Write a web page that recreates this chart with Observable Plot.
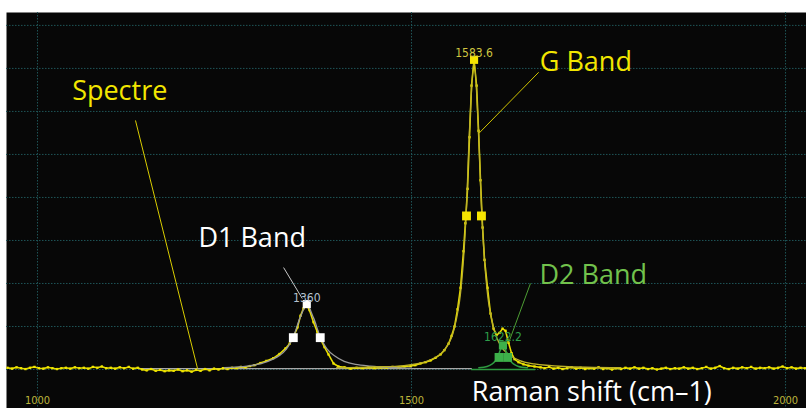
<!DOCTYPE html>
<html>
<head>
<meta charset="utf-8">
<script src="https://cdn.jsdelivr.net/npm/d3@7"></script>
<script src="https://cdn.jsdelivr.net/npm/@observablehq/plot@0.6"></script>
<style>
  html, body { margin: 0; padding: 0; background: #ffffff; }
  #chart svg { display: block; }
</style>
</head>
<body>
<div id="chart"></div>
<script>
// ---------- Data ----------
// x tick labels (Raman shift, cm-1) and y grid levels (arbitrary intensity units)
const xTicks = [1000, 1500, 2000];
const yGrid = [0, 1, 2, 3, 4, 5, 6, 7, 8];

// measured spectrum
const specWn = [
  960,966,972,978,984,990,996,1002,1008,1014,1020,1026,1032,1038,1044,1050,1056,1062,1068,1074,
  1080,1086,1092,1098,1104,1110,1116,1122,1128,1134,1140,1146,1152,1158,1164,1170,1176,1182,1188,1194,
  1200,1206,1212,1218,1224,1230,1236,1242,1248,1254,1260,1266,1272,1278,1284,1290,
  1298,1306,1315,1323.5,1331.6,1337,1342,1347.6,1351.6,1355.6,1359.6,1363.6,1369,1374,1378,1383.7,1389,1395.7,
  1402.4,1410.4,1418.4,1426.5,1434.5,1442.5,1450.5,1458.6,1466.6,1474.6,1482.6,1490.6,1498.7,1505,1512,
  1518.7,1525.4,1532,1538.8,1544,1549.5,1553.5,1557.5,1561.5,1565.5,1569.5,1572,1574.9,1577.5,1580.2,1583.6,
  1587,1589.6,1592.2,1595,1597.6,1601.6,1605.6,1609.6,1613.6,1617.6,1621.7,1625.7,1629.7,1633.7,1637.7,
  1643,1649.7,1656.4,1664.4,1672.5,
  1678,1684,1690,1696,1702,1708,1714,1720,1726,1732,1738,1744,1750,1756,1762,1768,1774,1780,1786,1792,
  1798,1804,1810,1816,1822,1828,1834,1840,1846,1852,1858,1864,1870,1876,1882,1888,1894,1900,1906,1912,
  1918,1924,1930,1936,1942,1948,1954,1960,1966,1972,1978,1984,1990,1996,2002,2008,2014,2020,2026
];
const specInt = [
  0.04,0.02,0.05,0.03,0.01,0.04,0.06,0.03,0.02,0.05,0.03,0.01,0.03,0.04,0.02,0.05,0.03,0.04,0.02,0.06,
  0.04,0.07,0.03,0.04,0.02,0.05,0.03,0.06,0.02,0.04,0.00,-0.02,0.01,-0.03,-0.01,-0.04,-0.02,-0.03,0.00,-0.04,
  -0.02,-0.05,-0.01,-0.03,0.01,-0.02,0.02,0.00,0.03,0.01,0.04,0.03,0.06,0.05,0.08,0.10,
  0.15,0.20,0.26,0.36,0.49,0.60,0.75,0.98,1.25,1.42,1.50,1.38,1.10,0.88,0.72,0.52,0.35,0.14,
  0.07,0.05,0.02,0.04,0.03,0.05,0.03,0.05,0.04,0.06,0.05,0.07,0.08,0.10,0.14,
  0.17,0.21,0.27,0.35,0.45,0.60,0.78,1.00,1.40,1.90,2.75,3.40,4.20,5.40,6.60,7.18,
  6.60,5.55,4.40,3.30,2.55,1.90,1.30,0.95,0.80,0.85,0.95,0.90,0.62,0.38,0.24,
  0.17,0.12,0.09,0.07,0.05,
  0.03,0.06,0.02,0.04,0.01,0.03,0.05,0.02,0.04,0.01,0.03,0.02,0.05,0.01,0.03,0.00,0.03,0.01,0.04,0.02,
  0.05,0.02,0.04,0.01,0.03,0.00,0.02,0.04,0.01,0.03,0.02,0.05,0.02,0.04,0.01,0.03,0.06,0.02,0.04,0.08,
  0.03,0.01,0.04,0.02,0.05,0.03,0.06,0.02,0.04,0.03,0.05,0.02,0.04,0.07,0.03,0.05,0.02,0.04,0.03
];

// fitted bands
const d1FitWn  = [1250,1280,1300,1315,1324,1333,1342,1351,1360,1369,1378,1387,1396,1410,1425,1445,1470,1500];
const d1FitInt = [0.04,0.08,0.14,0.24,0.33,0.48,0.76,1.20,1.50,1.20,0.76,0.48,0.33,0.19,0.12,0.08,0.05,0.03];

const gFitWn  = [1400,1450,1490,1520,1540,1553,1563,1568,1573,1578,1583.6,1589,1594,1599,1604,1614,1624,1644,1664,1704,1780];
const gFitInt = [0.04,0.06,0.09,0.19,0.38,0.72,1.45,2.22,3.60,5.74,7.17,5.74,3.60,2.22,1.45,0.74,0.44,0.21,0.13,0.07,0.04];

const d2FitWn  = [1590,1601,1608,1611.7,1615.2,1618.7,1622.2,1625.7,1629.2,1632.7,1636.2,1643,1655];
const d2FitInt = [0.04,0.07,0.13,0.19,0.29,0.45,0.56,0.45,0.29,0.19,0.13,0.07,0.04];

// fit baselines
const baseGrayWn = [1135, 1580];
const baseGrayInt = [0.02, 0.02];
const baseGreenWn = [1580, 1665];
const baseGreenInt = [0.0, 0.0];

// peak positions / half-maximum markers
const bandNames   = ["D1", "G", "D2"];
const peakWn      = [1360, 1583.6, 1622.2];
const peakInt     = [1.52, 7.20, 0.56];
const halfLeftWn  = [1342, 1573.5, 1617];
const halfRightWn = [1378, 1593.5, 1628.5];
const halfInt     = [0.74, 3.57, 0.28];
const peakLabels  = ["1360", "1583.6", "1622.2"];
const peakLabelInt = [1.56, 7.26, 0.67];

// annotations
const annTexts = ["Spectre", "G Band", "D1 Band", "D2 Band"];
const annWn    = [1110, 1733, 1287, 1743];
const annInt   = [6.26, 6.93, 2.84, 1.98];
const ptrFromWn  = [1131, 1670, 1329, 1659];
const ptrFromInt = [5.79, 6.91, 2.37, 2.00];
const ptrToWn    = [1214, 1590, 1354, 1630];
const ptrToInt   = [0.02, 5.49, 1.65, 0.63];
const axisTitle = "Raman shift (cm\u20131)";
const axisTitleWn = 1741;
const axisTitleInt = -0.74;

// ---------- styles ----------
const annColors  = ["#f2e600", "#f2e600", "#ffffff", "#72c24c"];
const ptrColors  = ["#d8cc00", "#d0c400", "#c8c8c8", "#4e9e34"];
const bandColors = ["#ffffff", "#f5e400", "#3db04a"];
const labelColors = ["#b4c2d0", "#cfc640", "#2e9e4a"];

// ---------- build tables ----------
const zip = (xs, ys) => xs.map((x, i) => ({x, y: ys[i]}));
const spectrum = zip(specWn, specInt);
const d1Fit = zip(d1FitWn, d1FitInt);
const gFit = zip(gFitWn, gFitInt);
const d2Fit = zip(d2FitWn, d2FitInt);
const baseGray = zip(baseGrayWn, baseGrayInt);
const baseGreen = zip(baseGreenWn, baseGreenInt);
const peaks = bandNames.map((b, i) => ({band: b, x: peakWn[i], y: peakInt[i], color: bandColors[i]}));
const halves = bandNames.flatMap((b, i) => [
  {band: b, x: halfLeftWn[i], y: halfInt[i], color: bandColors[i]},
  {band: b, x: halfRightWn[i], y: halfInt[i], color: bandColors[i]}
]);
const pLabels = bandNames.map((b, i) => ({text: peakLabels[i], x: peakWn[i], y: peakLabelInt[i], color: labelColors[i]}));
const anns = annTexts.map((t, i) => ({text: t, x: annWn[i], y: annInt[i], color: annColors[i]}));
const ptrs = annTexts.map((t, i) => ({x1: ptrFromWn[i], y1: ptrFromInt[i], x2: ptrToWn[i], y2: ptrToInt[i], color: ptrColors[i]}));

const labelFont = "'Open Sans', 'Noto Sans', sans-serif";
const numFont = "'Liberation Sans Narrow', 'DejaVu Sans Condensed', 'Liberation Sans', sans-serif";

const chart = Plot.plot({
  width: 806,
  height: 408,
  marginTop: 12,
  marginLeft: 6,
  marginRight: 0,
  marginBottom: 0,
  x: {domain: [958.6, 2028], axis: null},
  y: {domain: [-0.907, 8.30], axis: null},
  style: {background: "#ffffff", overflow: "visible"},
  marks: [
    Plot.frame({fill: "#070707", stroke: null}),
    Plot.gridX(xTicks, {stroke: "#1f5558", strokeOpacity: 1, strokeDasharray: "1.5,1.5"}),
    Plot.gridY(yGrid, {stroke: "#1f5558", strokeOpacity: 1, strokeDasharray: "1.5,1.5"}),
    Plot.axisX(xTicks, {anchor: "bottom", tickSize: 0, tickPadding: -12, fontSize: 11, fill: "#bdb43c", fontFamily: numFont, tickFormat: d => String(d)}),
    // baselines
    Plot.line(baseGray, {x: "x", y: "y", stroke: "#a8a8a8", strokeWidth: 1.3}),
    Plot.line(baseGreen, {x: "x", y: "y", stroke: "#2e9a40", strokeWidth: 1.3}),
    // spectrum
    Plot.line(spectrum, {x: "x", y: "y", stroke: "#e6dc00", strokeWidth: 1.6}),
    Plot.dot(spectrum, {x: "x", y: "y", symbol: "square", r: 1.3, fill: "#f0e600", stroke: null}),
    // fits
    Plot.line(d1Fit, {x: "x", y: "y", curve: "catmull-rom", stroke: "#9a9a9a", strokeWidth: 1.3}),
    Plot.line(gFit, {x: "x", y: "y", curve: "catmull-rom", stroke: "#bdb22a", strokeWidth: 1.3}),
    Plot.line(d2Fit, {x: "x", y: "y", curve: "catmull-rom", stroke: "#2e9a40", strokeWidth: 1.5}),
    // pointers
    Plot.link(ptrs, {x1: "x1", y1: "y1", x2: "x2", y2: "y2", stroke: "color", strokeWidth: 1}),
    // markers
    Plot.dot(halves, {x: "x", y: "y", symbol: "square", r: 5, fill: "color", stroke: null}),
    Plot.dot(peaks, {x: "x", y: "y", symbol: "square", r: 4.6, fill: "color", stroke: null}),
    // peak labels
    Plot.text(pLabels, {x: "x", y: "y", text: "text", fill: "color", fontSize: 12, fontFamily: numFont, lineAnchor: "bottom"}),
    // annotations
    Plot.text(anns, {x: "x", y: "y", text: "text", fill: "color", fontSize: 27, fontFamily: labelFont, lineAnchor: "bottom"}),
    Plot.text([axisTitle], {x: () => axisTitleWn, y: () => axisTitleInt, text: d => d, fill: "#ffffff", fontSize: 27, fontFamily: labelFont, lineAnchor: "bottom"})
  ]
});
document.getElementById("chart").appendChild(chart);
</script>
</body>
</html>
